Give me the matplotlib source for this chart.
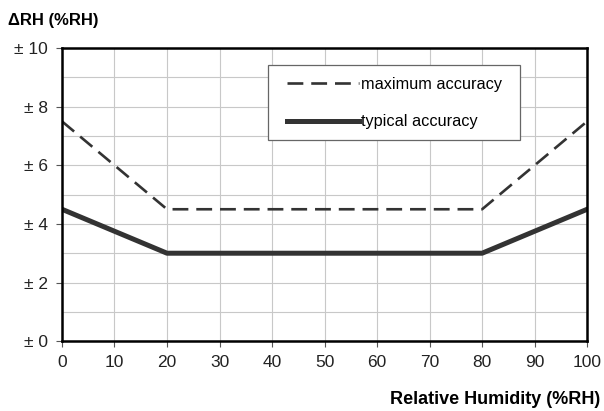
import matplotlib.pyplot as plt
from matplotlib.patches import Rectangle
from matplotlib.ticker import MultipleLocator

rh = [0, 20, 80, 100]
max_acc = [7.5, 4.5, 4.5, 7.5]
typ_acc = [4.5, 3.0, 3.0, 4.5]
xticks = list(range(0, 101, 10))
yticks = [0, 2, 4, 6, 8, 10]
ylabels = ['± %d' % v for v in yticks]

plt.rcParams['font.family'] = ['Liberation Sans', 'DejaVu Sans']

fig = plt.figure(figsize=(6.04, 4.11), dpi=100)
ax = fig.add_axes([0.1026, 0.170, 0.8695, 0.713])

ax.plot(rh, max_acc, color='#333333', lw=1.9, dashes=(6, 3), label='maximum accuracy')
ax.plot(rh, typ_acc, color='#333333', lw=3.6, label='typical accuracy')

ax.set_xlim(0, 100)
ax.set_ylim(0, 10)
ax.set_xticks(xticks)
ax.set_yticks(yticks)
ax.set_yticklabels(ylabels)
ax.yaxis.set_minor_locator(MultipleLocator(1))
ax.grid(True, which='both', color='#c8c8c8', lw=0.8)
ax.set_axisbelow(True)
ax.tick_params(axis='both', which='major', labelsize=12.5, length=4, width=0.8,
               color='#555555', labelcolor='#222222', pad=6)
ax.tick_params(axis='both', which='minor', length=0)
for s in ax.spines.values():
    s.set_linewidth(1.8)
    s.set_color('black')

# legend box drawn separately so its padding matches
ax.add_patch(Rectangle((0.392, 0.686), 0.48, 0.256, transform=ax.transAxes,
                       facecolor='white', edgecolor='#666666', lw=0.9, zorder=4))
leg = ax.legend(loc='upper left', bbox_to_anchor=(0.392, 0.969), fontsize=11.7,
                frameon=False, handlelength=4.4,
                handletextpad=0.15, labelspacing=1.4, borderpad=1.2, borderaxespad=0)
leg.set_zorder(5)

fig.text(0.013, 0.951, 'ΔRH (%RH)', fontsize=12, fontweight='bold', va='center', ha='left')
fig.text(0.994, 0.027, 'Relative Humidity (%RH)', fontsize=13, fontweight='bold',
         va='center', ha='right')

fig.savefig('out.png', dpi=100)
